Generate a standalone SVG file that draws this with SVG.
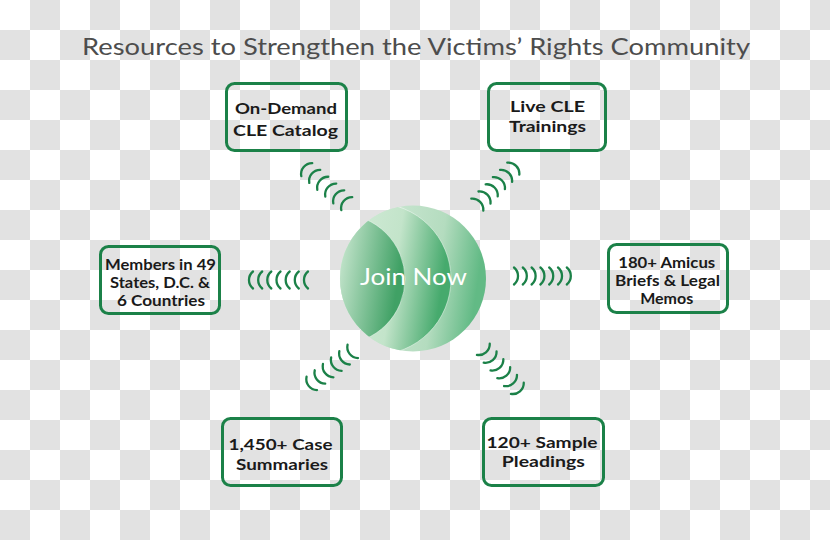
<svg xmlns="http://www.w3.org/2000/svg" xmlns:xlink="http://www.w3.org/1999/xlink" width="830" height="540" viewBox="0 0 830 540">
<style>
.box{fill:none;stroke:#1b8148;stroke-width:3}
.lbl{font-family:Lato,"Liberation Sans",sans-serif;font-weight:700;font-size:15px;fill:#1a1a1a;text-anchor:middle}
.sm{font-size:14.5px}
.wave{fill:none;stroke:#1b8148;stroke-width:2.3;stroke-linecap:round}
</style>
<defs>
<pattern id="checker" width="60" height="60" patternUnits="userSpaceOnUse">
<rect width="60" height="60" fill="#ffffff"/>
<rect x="30" y="0" width="30" height="30" fill="#e2e2e2"/>
<rect x="0" y="30" width="30" height="30" fill="#e2e2e2"/>
</pattern>
<clipPath id="ball"><circle cx="413" cy="278.5" r="73"/></clipPath>
<linearGradient id="gMain" x1="0" y1="0" x2="1" y2="0.15">
<stop offset="0" stop-color="#dcefe0"/>
<stop offset="0.72" stop-color="#b4dcbf"/>
<stop offset="1" stop-color="#62ba85"/>
</linearGradient>
<linearGradient id="gB" x1="0" y1="0" x2="1" y2="0.15">
<stop offset="0" stop-color="#e0f1e4"/>
<stop offset="0.68" stop-color="#c3e4ca"/>
<stop offset="1" stop-color="#46aa6d"/>
</linearGradient>
<linearGradient id="gA" x1="0" y1="0" x2="1" y2="0.15">
<stop offset="0" stop-color="#e0f1e4"/>
<stop offset="0.5" stop-color="#cde9d3"/>
<stop offset="1" stop-color="#40a165"/>
</linearGradient>
<path id="w" d="M -1,-8.5 A 11 11 0 0 1 -1,8.5"/>
</defs>

<rect width="830" height="540" fill="url(#checker)"/>

<text x="416" y="55" font-family="Lato,'Liberation Sans',sans-serif" font-size="24" fill="#4d4d4d" text-anchor="middle" textLength="668" lengthAdjust="spacingAndGlyphs">Resources to Strengthen the Victims’ Rights Community</text>

<g id="connectors" class="wave">
<g id="w-right">
<use href="#w" transform="translate(515,276)"/>
<use href="#w" transform="translate(523.8,276)"/>
<use href="#w" transform="translate(532.6,276)"/>
<use href="#w" transform="translate(541.4,276)"/>
<use href="#w" transform="translate(550.2,276)"/>
<use href="#w" transform="translate(559,276)"/>
<use href="#w" transform="translate(567.8,276)"/>
</g>
<g id="w-left">
<use href="#w" transform="translate(252,280) rotate(180)"/>
<use href="#w" transform="translate(261.2,280) rotate(180)"/>
<use href="#w" transform="translate(270.3,280) rotate(180)"/>
<use href="#w" transform="translate(279.5,280) rotate(180)"/>
<use href="#w" transform="translate(288.7,280) rotate(180)"/>
<use href="#w" transform="translate(297.8,280) rotate(180)"/>
<use href="#w" transform="translate(307,280) rotate(180)"/>
</g>
<g id="w-topleft">
<use href="#w" transform="translate(346,203) rotate(220)"/>
<use href="#w" transform="translate(338,196.2) rotate(220)"/>
<use href="#w" transform="translate(330,189.4) rotate(220)"/>
<use href="#w" transform="translate(322,182.6) rotate(220)"/>
<use href="#w" transform="translate(314,175.8) rotate(220)"/>
<use href="#w" transform="translate(306,169) rotate(220)"/>
</g>
<g id="w-topright">
<use href="#w" transform="translate(478,204) rotate(-45)"/>
<use href="#w" transform="translate(485.2,196.8) rotate(-45)"/>
<use href="#w" transform="translate(492.4,189.6) rotate(-45)"/>
<use href="#w" transform="translate(499.6,182.4) rotate(-45)"/>
<use href="#w" transform="translate(506.8,175.2) rotate(-45)"/>
<use href="#w" transform="translate(514,168) rotate(-45)"/>
</g>
<g id="w-bottomleft">
<use href="#w" transform="translate(352,352) rotate(142)"/>
<use href="#w" transform="translate(343.8,358.4) rotate(142)"/>
<use href="#w" transform="translate(335.6,364.8) rotate(142)"/>
<use href="#w" transform="translate(327.4,371.2) rotate(142)"/>
<use href="#w" transform="translate(319.2,377.6) rotate(142)"/>
<use href="#w" transform="translate(311,384) rotate(142)"/>
</g>
<g id="w-bottomright">
<use href="#w" transform="translate(484,350) rotate(49)"/>
<use href="#w" transform="translate(490.8,357.8) rotate(49)"/>
<use href="#w" transform="translate(497.6,365.6) rotate(49)"/>
<use href="#w" transform="translate(504.4,373.4) rotate(49)"/>
<use href="#w" transform="translate(511.2,381.2) rotate(49)"/>
<use href="#w" transform="translate(518,389) rotate(49)"/>
</g>
</g>

<g id="join-now">
<circle cx="413" cy="278.5" r="73" fill="url(#gMain)"/>
<g clip-path="url(#ball)">
<circle cx="375" cy="279" r="76" fill="url(#gB)" stroke="#ffffff" stroke-opacity="0.45" stroke-width="1"/>
<circle cx="340" cy="279" r="65" fill="url(#gA)" stroke="#ffffff" stroke-opacity="0.45" stroke-width="1"/>
</g>
<text x="413.5" y="285" font-family="Lato,'Liberation Sans',sans-serif" font-size="24" fill="#ffffff" text-anchor="middle" textLength="107" lengthAdjust="spacingAndGlyphs">Join Now</text>
</g>

<g id="on-demand">
<rect class="box" x="226.5" y="83.5" width="120" height="67" rx="8"/>
<text class="lbl" x="286" y="114" textLength="102" lengthAdjust="spacingAndGlyphs">On-Demand</text>
<text class="lbl" x="285.5" y="136" textLength="105" lengthAdjust="spacingAndGlyphs">CLE Catalog</text>
</g>

<g id="live-cle">
<rect class="box" x="488.5" y="83.5" width="117" height="67" rx="8"/>
<text class="lbl" x="547.5" y="112" textLength="75" lengthAdjust="spacingAndGlyphs">Live CLE</text>
<text class="lbl" x="547.5" y="132" textLength="77" lengthAdjust="spacingAndGlyphs">Trainings</text>
</g>

<g id="members">
<rect class="box" x="100.5" y="246.5" width="119" height="67" rx="8"/>
<text class="lbl sm" x="160.5" y="270" textLength="111" lengthAdjust="spacingAndGlyphs">Members in 49</text>
<text class="lbl sm" x="160" y="288" textLength="100" lengthAdjust="spacingAndGlyphs">States, D.C. &amp;</text>
<text class="lbl sm" x="161" y="305.5" textLength="88" lengthAdjust="spacingAndGlyphs">6 Countries</text>
</g>

<g id="amicus">
<rect class="box" x="608.5" y="244.5" width="119" height="68" rx="8"/>
<text class="lbl sm" x="666.7" y="268" textLength="97" lengthAdjust="spacingAndGlyphs">180+ Amicus</text>
<text class="lbl sm" x="667.5" y="286" textLength="105" lengthAdjust="spacingAndGlyphs">Briefs &amp; Legal</text>
<text class="lbl sm" x="666.7" y="303.5" textLength="53" lengthAdjust="spacingAndGlyphs">Memos</text>
</g>

<g id="case-summaries">
<rect class="box" x="222.5" y="418.5" width="119" height="67" rx="8"/>
<text class="lbl" x="280.5" y="450" textLength="104" lengthAdjust="spacingAndGlyphs">1,450+ Case</text>
<text class="lbl" x="282" y="470" textLength="92" lengthAdjust="spacingAndGlyphs">Summaries</text>
</g>

<g id="sample-pleadings">
<rect class="box" x="483.5" y="418.5" width="120" height="67" rx="8"/>
<text class="lbl" x="542" y="448" textLength="111" lengthAdjust="spacingAndGlyphs">120+ Sample</text>
<text class="lbl" x="543.3" y="466.5" textLength="83" lengthAdjust="spacingAndGlyphs">Pleadings</text>
</g>
</svg>
